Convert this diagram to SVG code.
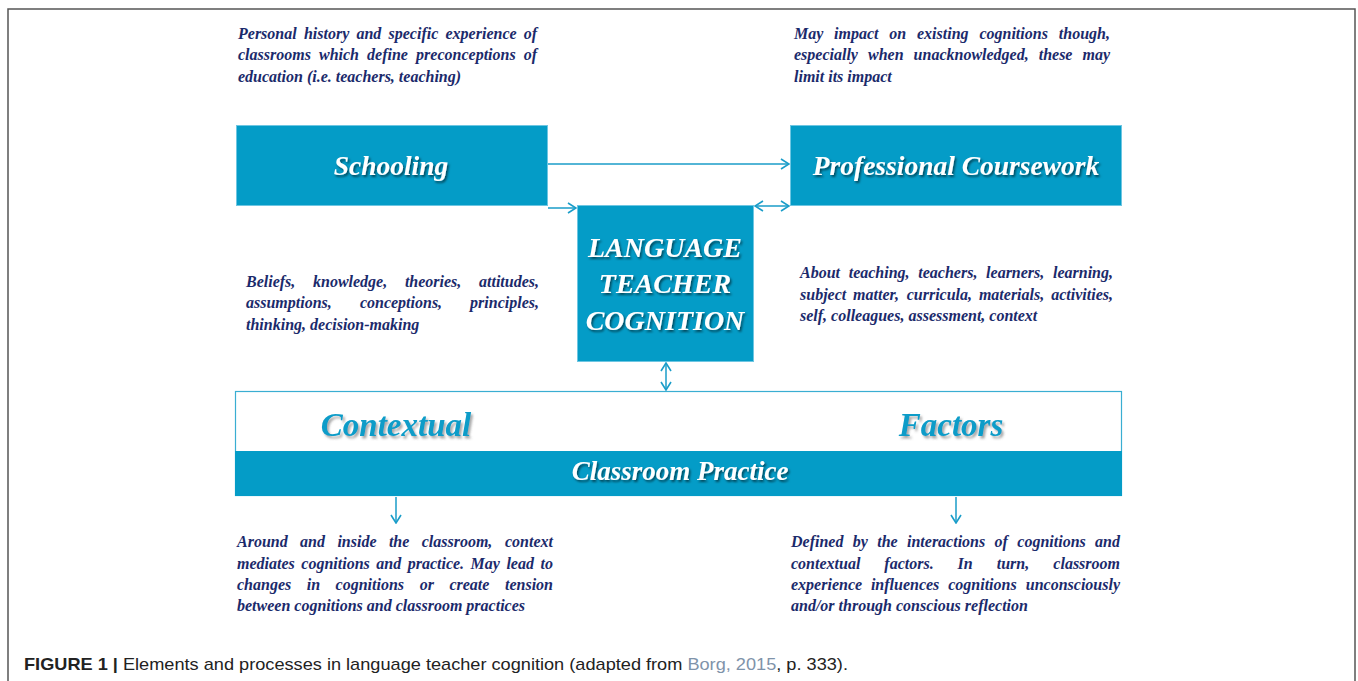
<svg xmlns="http://www.w3.org/2000/svg" width="1358" height="681" viewBox="0 0 1358 681">
<style>
.box{fill:#049cc7;stroke:#6ec6e2;stroke-width:1}
.ttl{font-family:"Liberation Serif",serif;font-style:italic;font-weight:bold;fill:#ffffff;text-anchor:middle}
.ctx{font-family:"Liberation Serif",serif;font-style:italic;font-weight:bold;fill:#0a9cc8;text-anchor:middle;font-size:33px}
.t{font-family:"Liberation Serif",serif;font-style:italic;font-weight:bold;fill:#1b2a6b;font-size:16px}
.e{text-anchor:end}
.con{stroke:#1a9dc9;stroke-width:1.5;fill:none}
.cap{font-family:"Liberation Sans",Arial,sans-serif;font-size:17px;fill:#222}
</style>
<defs>
<marker id="ah" viewBox="0 0 10 12" refX="9" refY="6" markerWidth="10" markerHeight="12" markerUnits="userSpaceOnUse" orient="auto-start-reverse">
<path d="M1,1 L9,6 L1,11" fill="none" stroke="#1a9dc9" stroke-width="1.6"/>
</marker>
<filter id="sh" x="-10%" y="-20%" width="120%" height="150%">
<feDropShadow dx="1.5" dy="2" stdDeviation="1" flood-color="#000" flood-opacity="0.55"/>
</filter>
<filter id="sh2" x="-10%" y="-20%" width="120%" height="150%">
<feDropShadow dx="2" dy="2.5" stdDeviation="1.2" flood-color="#555" flood-opacity="0.5"/>
</filter>
</defs>
<rect width="1358" height="681" fill="#fff"/>
<path d="M8,681 V9 H1355 V681" fill="none" stroke="#555" stroke-width="1.5"/>

<g id="schooling">
<rect class="box" x="236.5" y="125.5" width="311" height="80"/>
<text class="ttl" x="391" y="175" font-size="27.5" filter="url(#sh)">Schooling</text>
</g>
<g id="coursework">
<rect class="box" x="790.5" y="125.5" width="331" height="80"/>
<text class="ttl" x="956" y="175" font-size="27.5" filter="url(#sh)">Professional Coursework</text>
</g>
<g id="ltc">
<rect class="box" x="577.5" y="205.5" width="176" height="156"/>
<text class="ttl" font-size="28" filter="url(#sh)"><tspan x="665" y="257">LANGUAGE</tspan><tspan x="665" y="293">TEACHER</tspan><tspan x="665" y="330">COGNITION</tspan></text>
</g>
<g id="context">
<rect x="235.5" y="391.5" width="886" height="104" fill="#fff" stroke="#3aaed2" stroke-width="1.2"/>
<rect x="235" y="451" width="887" height="45" fill="#049cc7"/>
<text class="ctx" x="396" y="436" filter="url(#sh2)">Contextual</text>
<text class="ctx" x="951" y="436" filter="url(#sh2)">Factors</text>
<text class="ttl" x="680" y="480" font-size="27" filter="url(#sh)">Classroom Practice</text>
</g>

<g id="connectors">
<line class="con" x1="548" y1="164" x2="789" y2="164" marker-end="url(#ah)"/>
<line class="con" x1="548" y1="208" x2="576" y2="208" marker-end="url(#ah)"/>
<line class="con" x1="755" y1="206" x2="789" y2="206" marker-start="url(#ah)" marker-end="url(#ah)"/>
<line class="con" x1="666" y1="363" x2="666" y2="390" marker-start="url(#ah)" marker-end="url(#ah)"/>
<line class="con" x1="396" y1="497" x2="396" y2="523" marker-end="url(#ah)"/>
<line class="con" x1="956" y1="497" x2="956" y2="523" marker-end="url(#ah)"/>
</g>

<g id="note-schooling">
<text class="t" y="39"><tspan x="238">Personal</tspan><tspan x="303.9">history</tspan><tspan x="356.4">and</tspan><tspan x="388.5">specific</tspan><tspan x="445.5">experience</tspan><tspan x="537" class="e">of</tspan></text>
<text class="t" y="60"><tspan x="238">classrooms</tspan><tspan x="319">which</tspan><tspan x="367.1">define</tspan><tspan x="416.1">preconceptions</tspan><tspan x="537" class="e">of</tspan></text>
<text class="t" x="238" y="82">education (i.e. teachers, teaching)</text>
</g>
<g id="note-coursework">
<text class="t" y="39"><tspan x="794">May</tspan><tspan x="834.1">impact</tspan><tspan x="889.3">on</tspan><tspan x="917">existing</tspan><tspan x="979.4">cognitions</tspan><tspan x="1110" class="e">though,</tspan></text>
<text class="t" y="60"><tspan x="794">especially</tspan><tspan x="868">when</tspan><tspan x="913.6">unacknowledged,</tspan><tspan x="1038.7">these</tspan><tspan x="1110" class="e">may</tspan></text>
<text class="t" x="794" y="82">limit its impact</text>
</g>
<g id="note-cognition">
<text class="t" y="287"><tspan x="246">Beliefs,</tspan><tspan x="313">knowledge,</tspan><tspan x="404.9">theories,</tspan><tspan x="539" class="e">attitudes,</tspan></text>
<text class="t" y="308"><tspan x="246">assumptions,</tspan><tspan x="359.9">conceptions,</tspan><tspan x="539" class="e">principles,</tspan></text>
<text class="t" x="246" y="330">thinking, decision-making</text>
</g>
<g id="note-about">
<text class="t" y="278"><tspan x="800">About</tspan><tspan x="848.7">teaching,</tspan><tspan x="918.3">teachers,</tspan><tspan x="986.1">learners,</tspan><tspan x="1113" class="e">learning,</tspan></text>
<text class="t" y="300"><tspan x="800">subject</tspan><tspan x="853.1">matter,</tspan><tspan x="906.7">curricula,</tspan><tspan x="978.9">materials,</tspan><tspan x="1113" class="e">activities,</tspan></text>
<text class="t" x="800" y="321">self, colleagues, assessment, context</text>
</g>
<g id="note-context">
<text class="t" y="547"><tspan x="237">Around</tspan><tspan x="300.1">and</tspan><tspan x="337.4">inside</tspan><tspan x="388.9">the</tspan><tspan x="421.7">classroom,</tspan><tspan x="553" class="e">context</tspan></text>
<text class="t" y="569"><tspan x="237">mediates</tspan><tspan x="301.3">cognitions</tspan><tspan x="376.3">and</tspan><tspan x="407.7">practice.</tspan><tspan x="470.6">May</tspan><tspan x="506.4">lead</tspan><tspan x="553" class="e">to</tspan></text>
<text class="t" y="590"><tspan x="237">changes</tspan><tspan x="306.8">in</tspan><tspan x="335.6">cognitions</tspan><tspan x="419.7">or</tspan><tspan x="449.4">create</tspan><tspan x="553" class="e">tension</tspan></text>
<text class="t" x="237" y="611">between cognitions and classroom practices</text>
</g>
<g id="note-practice">
<text class="t" y="547"><tspan x="791">Defined</tspan><tspan x="852.8">by</tspan><tspan x="877.2">the</tspan><tspan x="907">interactions</tspan><tspan x="994.6">of</tspan><tspan x="1017.3">cognitions</tspan><tspan x="1120" class="e">and</tspan></text>
<text class="t" y="569"><tspan x="791">contextual</tspan><tspan x="884.3">factors.</tspan><tspan x="957.6">In</tspan><tspan x="996.7">turn,</tspan><tspan x="1120" class="e">classroom</tspan></text>
<text class="t" y="590"><tspan x="791">experience</tspan><tspan x="870.9">influences</tspan><tspan x="948.2">cognitions</tspan><tspan x="1120" class="e">unconsciously</tspan></text>
<text class="t" x="791" y="611">and/or through conscious reflection</text>
</g>

<g id="caption">
<text class="cap" x="24" y="670" textLength="824" lengthAdjust="spacingAndGlyphs"><tspan font-weight="bold">FIGURE 1 |</tspan> Elements and processes in language teacher cognition (adapted from <tspan fill="#7f93aa">Borg, 2015</tspan>, p. 333).</text>
</g>
</svg>
